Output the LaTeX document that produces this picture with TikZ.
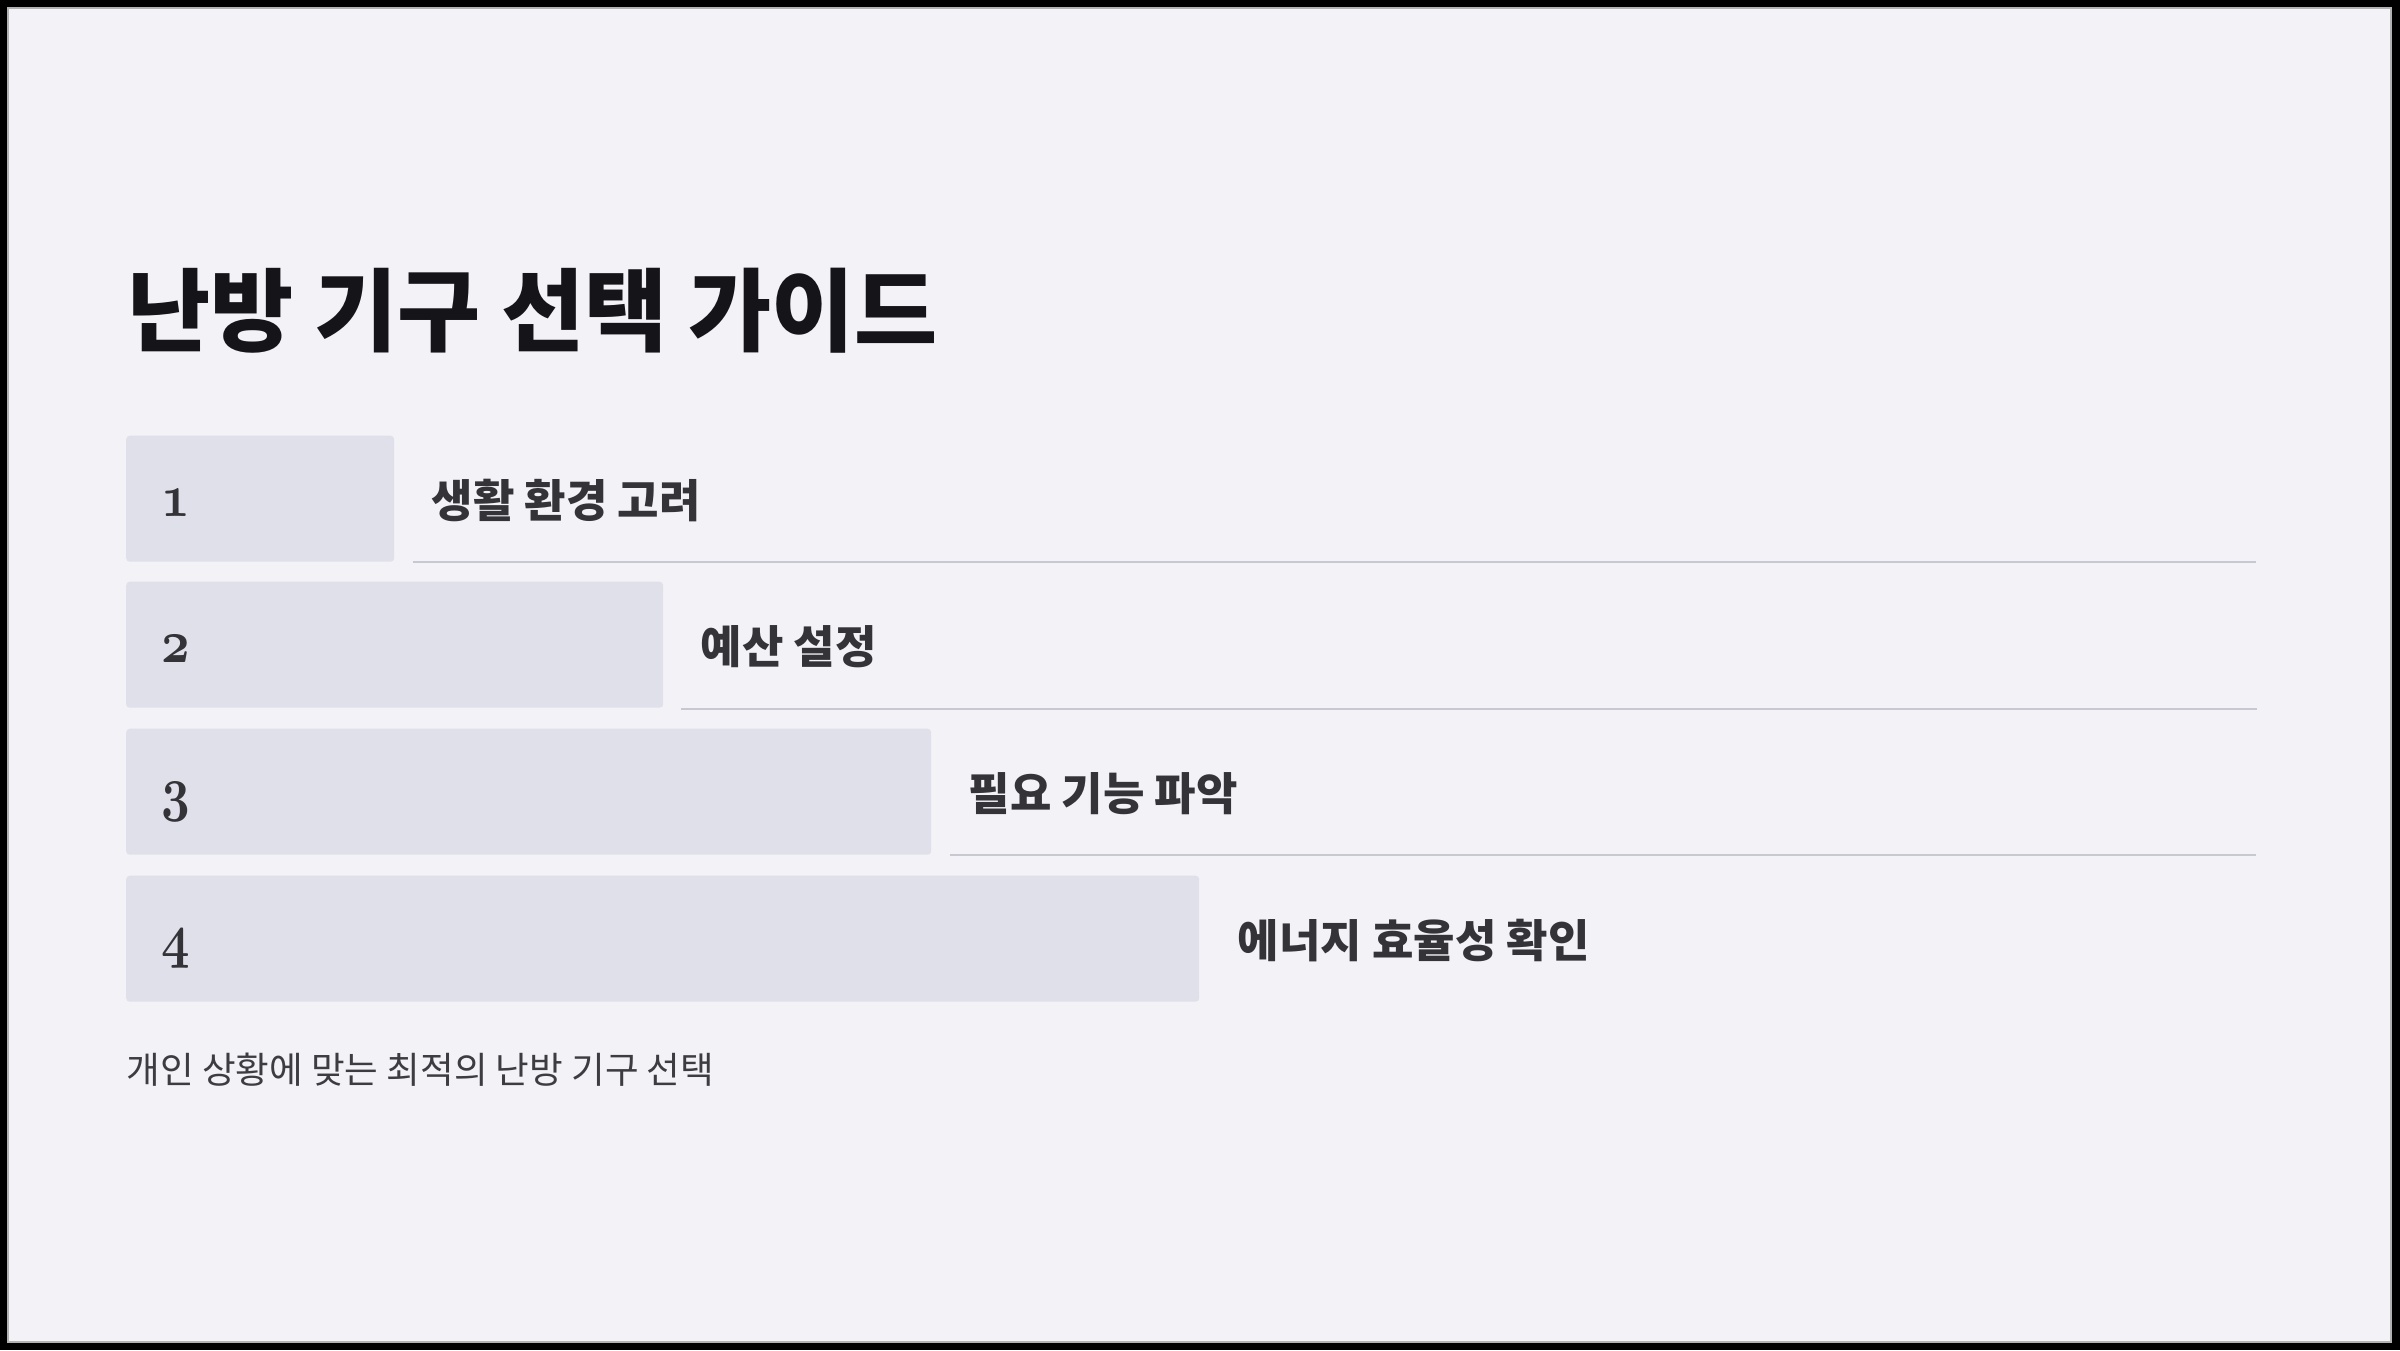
\documentclass[tikz,border=0pt]{standalone}
\usepackage{fontspec}
\newfontfamily\krfont{Noto Sans CJK KR}
\newcommand\osnum[1]{{\fontencoding{OML}\fontfamily{cmm}\fontseries{b}\fontshape{it}\fontsize{17}{18}\selectfont #1}}
\definecolor{bgc}{HTML}{F2F2F7}
\definecolor{boxc}{HTML}{E0E0EB}
\definecolor{linec}{HTML}{C8C8D2}
\definecolor{titlec}{HTML}{141419}
\definecolor{labelc}{HTML}{333338}
\definecolor{subc}{HTML}{3C3C41}
\begin{document}
\begin{tikzpicture}[x=0.01cm,y=-0.01cm,
  barbox/.style={fill=boxc,draw=none,rounded corners=1pt,inner sep=0pt,anchor=north west,minimum height=126*0.01cm},
  numtxt/.style={anchor=base west,inner sep=0pt,text=labelc,xscale=0.82,transform shape},
  lbltxt/.style={anchor=base west,inner sep=0pt,text=labelc,font=\krfont\bfseries\fontsize{12.8}{14}\selectfont},
  underline/.style={draw=linec,line width=0.6pt}]
\useasboundingbox (0,0) rectangle (2400,1350);
\fill[black] (0,0) rectangle (2400,1350);
\fill[bgc] (8,8) rectangle (2391,1342);
\draw[gray!60,line width=0.8pt] (8,8) rectangle (2391,1342);
% title
\node[anchor=base west,inner sep=0pt,text=titlec,font=\krfont\bfseries\fontsize{25.7}{28}\selectfont] (title) at (127,344) {난방 기구 선택 가이드};
% boxes
\node[barbox,minimum width=268*0.01cm] (b1) at (125.5,435) {};
\node[barbox,minimum width=537*0.01cm] (b2) at (125.5,581) {};
\node[barbox,minimum width=805*0.01cm] (b3) at (125.5,728) {};
\node[barbox,minimum width=1073*0.01cm] (b4) at (125.5,875) {};
% numbers
\node[numtxt] (n1) at (161,516) {\osnum{1}};
\node[numtxt] (n2) at (161,662) {\osnum{2}};
\node[numtxt] (n3) at (161,809) {\osnum{3}};
\node[numtxt] (n4) at (161,956) {\osnum{4}};
% labels
\node[lbltxt] (l1) at (431,517) {생활 환경 고려};
\node[lbltxt] (l2) at (700,663) {예산 설정};
\node[lbltxt] (l3) at (968,810) {필요 기능 파악};
\node[lbltxt] (l4) at (1237,957) {에너지 효율성 확인};
% underlines
\coordinate (u1a) at (413,562); \coordinate (u1b) at (2256,562);
\coordinate (u2a) at (681,709); \coordinate (u2b) at (2257,709);
\coordinate (u3a) at (950,855); \coordinate (u3b) at (2256,855);
\draw[underline] (u1a) -- (u1b);
\draw[underline] (u2a) -- (u2b);
\draw[underline] (u3a) -- (u3b);
% subtitle
\node[anchor=base west,inner sep=0pt,text=subc,font=\krfont\fontsize{10.4}{12}\selectfont] (sub) at (126,1083) {개인 상황에 맞는 최적의 난방 기구 선택};
\end{tikzpicture}
\end{document}
